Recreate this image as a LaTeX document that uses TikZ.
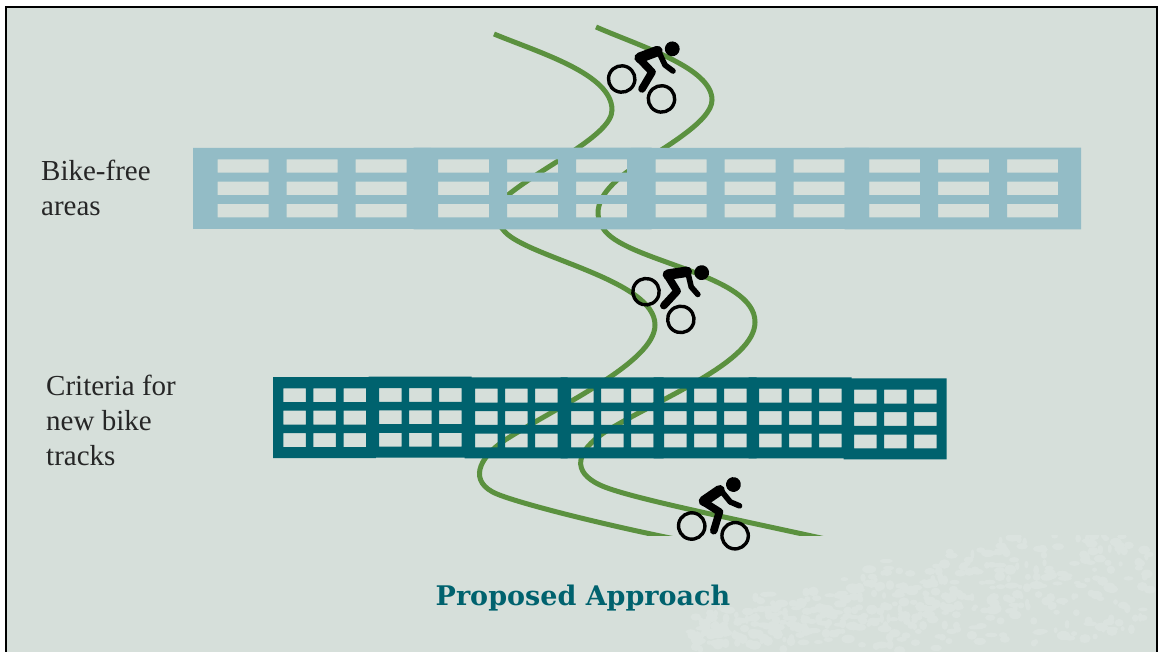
\documentclass[tikz,border=0pt]{standalone}
\usepackage{fontspec}
\usepackage{xcolor}
\setmainfont{Liberation Serif}
\newfontfamily\titlefont{DejaVu Serif}
\usetikzlibrary{calc,positioning}
\definecolor{slidebg}{HTML}{D6DFDA}
\definecolor{slidetex}{HTML}{DBE3DF}
\definecolor{trackgreen}{HTML}{5B913F}
\definecolor{paleband}{HTML}{93BCC6}
\definecolor{deepband}{HTML}{00626E}
\tikzset{
    track/.style={draw=trackgreen, line width=5pt},
    sidelabel/.style={anchor=north west, align=left, inner sep=0pt, text=black!85, font=\fontsize{29}{35}\selectfont},
    wheel/.style={draw=black, line width=3.4pt},
    limb/.style={draw=black, line cap=round, line join=round},
    pics/rider/.style={code={
        \draw[wheel] (0,0) circle (13.2);
        \draw[wheel] (44.5,0) circle (13.2);
        \fill (31.7,-49.6) circle (7.4);
        \draw[limb, line width=10.5pt] (6.5,-27) -- (19.5,-41);
        \draw[limb, line width=5.6pt] (19.5,-42.1) -- (32.4,-31.9) -- (42.3,-30.1);
        \draw[limb, line width=7.6pt] (6.5,-26.1) -- (24,-19.8) -- (22.6,-0.2);
    }}
}

\begin{document}
\begin{tikzpicture}[x=1pt, y=-1pt]
\useasboundingbox (0,0) rectangle (1158,652);

% Slide
\fill[slidebg] (6,7) rectangle (1157,662);
\begin{scope}
    \clip (680,535) rectangle (1156,652);
    \pgfmathsetseed{11}
    \foreach \i in {1,...,520} {
        \pgfmathsetmacro{\bx}{690+460*rnd}
        \pgfmathsetmacro{\by}{652-rnd*(\bx-660)*0.28-rnd*30}
        \fill[slidetex] (\bx,\by) ellipse ({2+5*rnd} and {2+3*rnd});
    }
\end{scope}
\draw[black, line width=2pt] (6,7) rectangle (1157,662);

% Tracks
\begin{scope}
    \clip (6,7) rectangle (1157,535);
    \draw[track] (494,34) .. controls (540,53) and (612,74) .. (612,110)
        .. controls (612,135) and (545,165) .. (508,195)
        .. controls (495,207) and (495,222) .. (505,232)
        .. controls (530,258) and (655,280) .. (655,325)
        .. controls (655,362) and (560,405) .. (505,440)
        .. controls (478,458) and (468,482) .. (497,494)
        .. controls (520,503.5) and (600,524) .. (680,540);
    \draw[track] (596,27) .. controls (642,47) and (712,68) .. (712,100)
        .. controls (712,122) and (660,150) .. (627,172)
        .. controls (600,192) and (590,212) .. (605,231)
        .. controls (630,262) and (755,275) .. (755,322)
        .. controls (755,362) and (660,398) .. (605,432)
        .. controls (575,452) and (572,472) .. (600,485)
        .. controls (625,497) and (730,518) .. (830,540);
\end{scope}

% Bike-free band
\foreach \sx/\ex/\cx/\tp/\bt in {193/431/217.7/148/229, 413.5/651.5/438/147.6/229.4, 631/869/655.6/148/229, 844.5/1081/869/147.6/229.4} {
    \fill[paleband, even odd rule] (\sx,\tp) rectangle (\ex,\bt)
        foreach \c in {0,1,2} { foreach \r in {159.3,181.7,204} {
            ({\cx+69*\c},\r) rectangle ({\cx+69*\c+51},\r+13.4)
        } };
}

% Criteria band
\foreach \cx/\dy in {283.3/0, 379/-0.3, 475/0.4, 571/0.4, 664/0.4, 759/0.4, 854/1.4} {
    \fill[deepband, even odd rule] (\cx-10.3,377+\dy) rectangle (\cx+92.5,458+\dy)
        foreach \c in {0,1,2} { foreach \r in {388.3,410.7,433.2} {
            ({\cx+30.1*\c},\r+\dy) rectangle ({\cx+30.1*\c+22.5},\r+\dy+13.8)
        } };
}

% Riders
\pic[rotate=-26.6] (riderone) at (621.7,79) {rider};
\pic[rotate=-38.5] (ridertwo) at (646,291.7) {rider};
\pic[rotate=-12.6] (riderthree) at (691.7,526) {rider};

% Labels
\node[sidelabel] (bikefree) at (41,160) {Bike-free\\areas};
\node[sidelabel] (criteria) at (46,375) {Criteria for\\new bike\\tracks};
\node[anchor=base, inner sep=0pt, text=deepband, font=\titlefont\bfseries\fontsize{27}{32}\selectfont] (approach) at (583,605) {Proposed Approach};

\end{tikzpicture}
\end{document}
